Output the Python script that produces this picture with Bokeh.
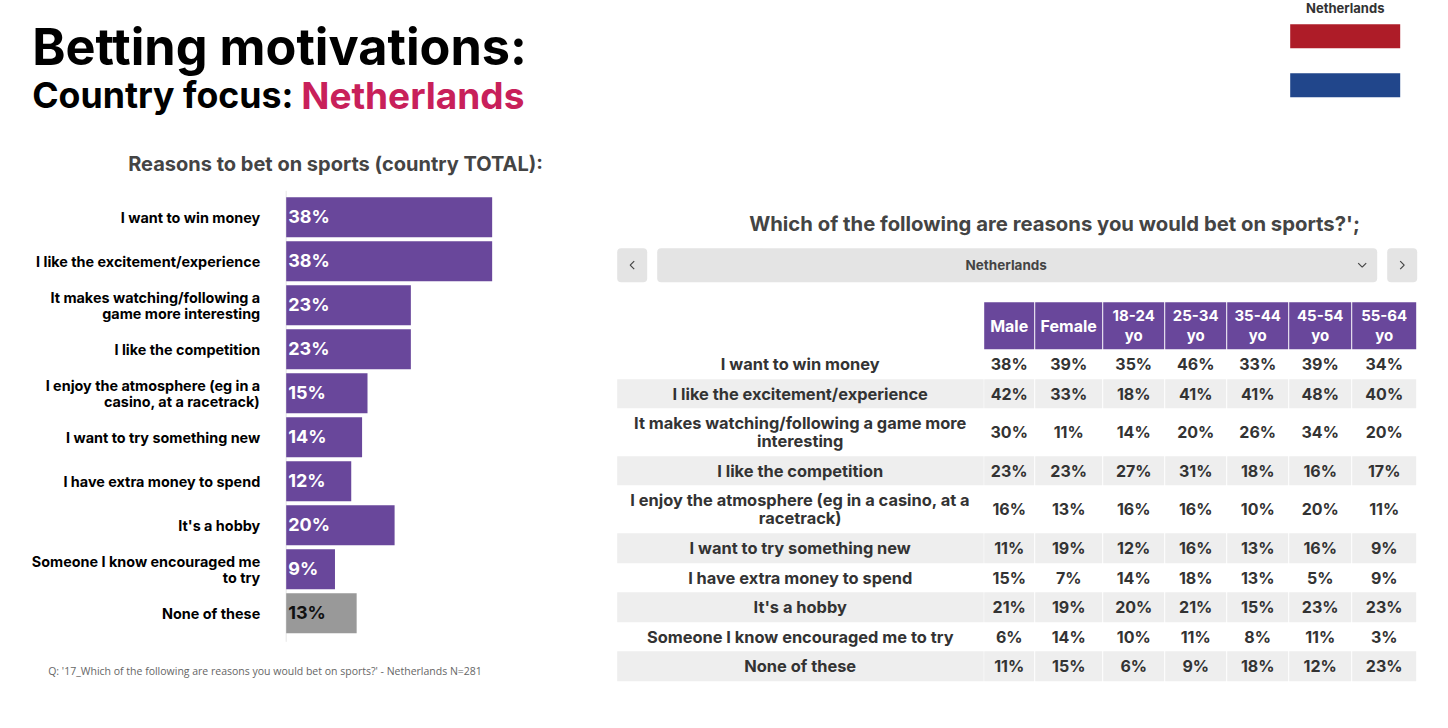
from bokeh.plotting import figure
from bokeh.embed import file_html
from bokeh.resources import INLINE
from bokeh.core.properties import value
from bokeh.models import Range1d, BoxAnnotation

# ---------- data ----------
bar_labels = ["I want to win money", "I like the excitement/experience",
              "It makes watching/following a\ngame more interesting", "I like the competition",
              "I enjoy the atmosphere (eg in a\ncasino, at a racetrack)", "I want to try something new",
              "I have extra money to spend", "It's a hobby",
              "Someone I know encouraged me\nto try", "None of these"]
bar_values = [38, 38, 23, 23, 15, 14, 12, 20, 9, 13]

table_labels = ["I want to win money", "I like the excitement/experience",
                "It makes watching/following a game more\ninteresting", "I like the competition",
                "I enjoy the atmosphere (eg in a casino, at a\nracetrack)", "I want to try something new",
                "I have extra money to spend", "It's a hobby",
                "Someone I know encouraged me to try", "None of these"]
table_columns = ["Male", "Female", "18-24\nyo", "25-34\nyo", "35-44\nyo", "45-54\nyo", "55-64\nyo"]
male = [38, 42, 30, 23, 16, 11, 15, 21, 6, 11]
female = [39, 33, 11, 23, 13, 19, 7, 19, 14, 15]
age_18_24 = [35, 18, 14, 27, 16, 12, 14, 20, 10, 6]
age_25_34 = [46, 41, 20, 31, 16, 16, 18, 21, 11, 9]
age_35_44 = [33, 41, 26, 18, 10, 13, 13, 15, 8, 18]
age_45_54 = [39, 48, 34, 16, 20, 16, 5, 23, 11, 12]
age_55_64 = [34, 40, 20, 17, 11, 9, 9, 23, 3, 23]
table_values = [male, female, age_18_24, age_25_34, age_35_44, age_45_54, age_55_64]

# ---------- layout ----------
W, H = 1448, 728
OFF = 0.3
HEAD = "Inter"
PURPLE, GREY, BAND, INK = "#69479b", "#999999", "#eeeeee", "#333333"
col_edges = [(984, 1034), (1035, 1102), (1103, 1164), (1165, 1226), (1227, 1288), (1289, 1351), (1352, 1416)]
row_edges = [(349, 379), (379, 408), (408, 456), (456, 485), (485, 533),
             (533, 563), (563, 592), (592, 622), (622, 651), (651, 681)]
band_rows = [1, 3, 5, 7, 9]

p = figure(width=W, height=H, output_backend="svg", toolbar_location=None,
           x_range=Range1d(OFF, W + OFF), y_range=Range1d(H + OFF, OFF),
           min_border=0, outline_line_color=None, background_fill_color="white")
p.axis.visible = False
p.grid.visible = False
p.styles = {"position": "absolute", "left": "0px", "top": "0px"}

px_per_pct, bar_x0, bar_y0, bar_step = 5.42, 286, 217, 44
p.extra_x_ranges["pct"] = Range1d((OFF - bar_x0) / px_per_pct, (W + OFF - bar_x0) / px_per_pct)
p.extra_y_ranges["row"] = Range1d((H + OFF - bar_y0) / bar_step, (OFF - bar_y0) / bar_step)


def txt(x, y, s, size, color="#000000", align="left", font=HEAD, style="bold", lh=1.15):
    p.text(x=[x], y=[y], text=[s], text_font=value(font), text_font_size=f"{size}px",
           text_font_style=style, text_color=color, text_align=align,
           text_baseline="middle", text_line_height=lh)


# titles
txt(32, 46, "Betting motivations:", 50.4)
txt(32, 95, "Country focus:", 35.7)
txt(301, 95, "Netherlands", 37, "#c8205a")
txt(128, 164, "Reasons to bet on sports (country TOTAL):", 20, "#444444")
txt(749, 223, "Which of the following are reasons you would bet on sports?';", 20.3, "#444444")
txt(1345, 8, "Netherlands", 13, INK, "center")

# flag
p.quad(left=[1290, 1290], right=[1400, 1400], top=[24, 73], bottom=[48, 97],
       fill_color=["#ae1c28", "#21468b"], line_color=None)

# bar chart
idx = list(range(len(bar_values)))
colors = [PURPLE] * 9 + [GREY]
p.segment(x0=[0], x1=[0], y0=[-0.6], y1=[9.65], line_color="#e6e6e6", line_width=1,
          x_range_name="pct", y_range_name="row")
p.hbar(y=idx, left=0, right=bar_values, height=40 / bar_step, fill_color=colors, line_color=None,
       x_range_name="pct", y_range_name="row")
p.text(x=[0] * 10, y=idx, text=[f"{v}%" for v in bar_values], x_offset=2, y_offset=-1,
       text_font=value(HEAD), text_font_style="bold", text_font_size="18px",
       text_color=["white"] * 9 + ["#111111"], text_baseline="middle",
       x_range_name="pct", y_range_name="row")
p.text(x=[-26 / px_per_pct] * 10, y=idx, text=bar_labels, text_align="right", text_baseline="middle",
       text_font=value(HEAD), text_font_style="bold", text_font_size="14.4px", text_color="#000000",
       text_line_height=0.93, x_range_name="pct", y_range_name="row")

txt(48, 671, "Q: '17_Which of the following are reasons you would bet on sports?' - Netherlands N=281",
    10.5, "#666666", font="Open Sans", style="normal")

# selector
for l, r in [(617, 647), (657, 1377), (1387, 1417)]:
    p.add_layout(BoxAnnotation(left=l, right=r, top=248, bottom=282, fill_color="#e4e4e4", fill_alpha=1,
                               line_color=None, border_radius=4, level="underlay"))
txt(1006, 265, "Netherlands", 13.5, "#444444", "center")
p.multi_line(xs=[[634, 630, 634], [1400, 1404, 1400], [1358, 1362, 1366]],
             ys=[[261, 265, 269], [261, 265, 269], [263, 267, 263]], line_color="#444444", line_width=1.2)

# table
for (l, r) in col_edges:
    p.quad(left=[l], right=[r], top=[302], bottom=[349], fill_color=PURPLE, line_color=None)
for name, (l, r) in zip(table_columns, col_edges):
    txt((l + r) / 2, 325.5, name, 15 if "\n" in name else 16, "white", "center", lh=1.05)
for i in band_rows:
    t, b = row_edges[i]
    p.quad(left=[617], right=[983.5], top=[t], bottom=[b], fill_color=BAND, line_color=None)
    for l, r in col_edges:
        p.quad(left=[l], right=[r], top=[t], bottom=[b], fill_color=BAND, line_color=None)
for i, (t, b) in enumerate(row_edges):
    txt(800, (t + b) / 2, table_labels[i], 16.4, INK, "center", lh=0.9)
    for series, (l, r) in zip(table_values, col_edges):
        txt((l + r) / 2, (t + b) / 2, f"{series[i]}%", 16, INK, "center")

open("out.html", "w").write(file_html(p, INLINE))
